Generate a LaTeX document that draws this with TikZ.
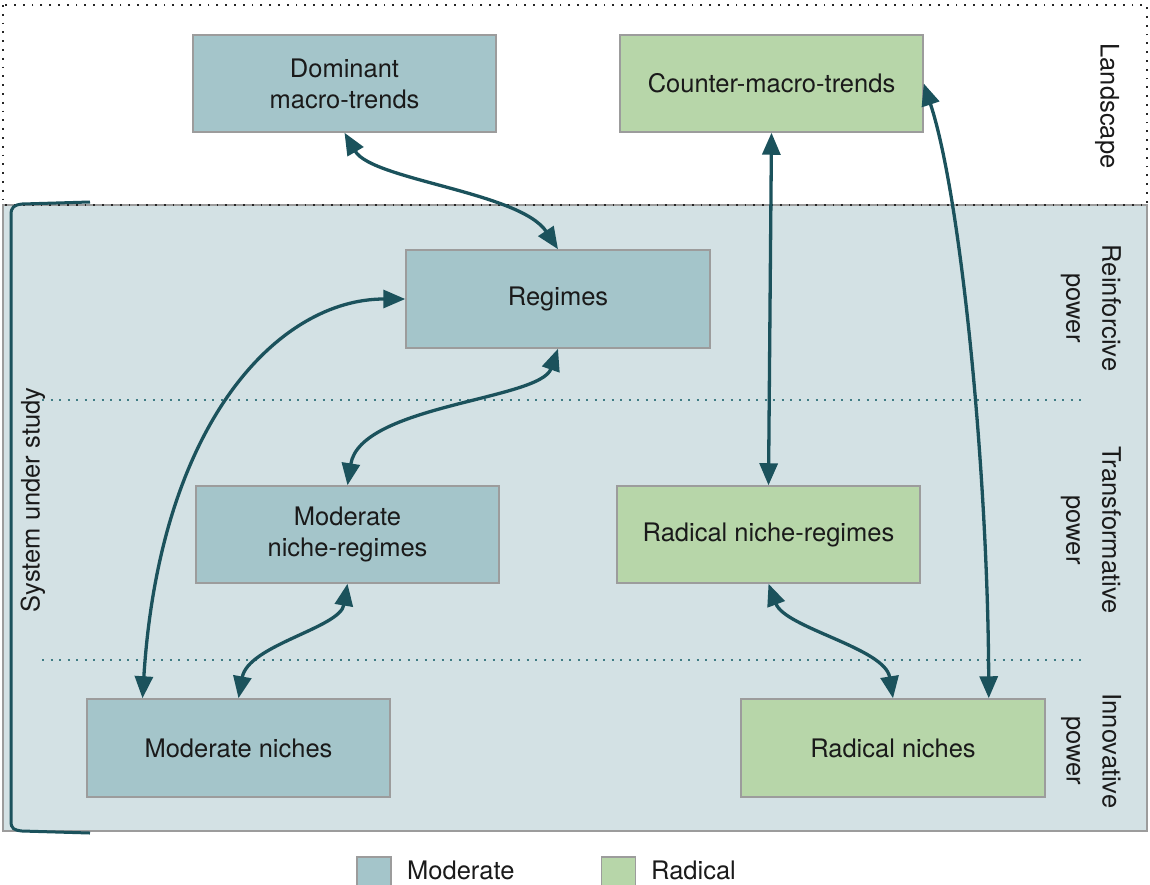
\documentclass[tikz,border=0pt]{standalone}
\usepackage{fontspec}
\setmainfont{TeX Gyre Heros}
\usetikzlibrary{arrows.meta}
\definecolor{modfill}{HTML}{A4C5CA}
\definecolor{radfill}{HTML}{B7D6A9}
\definecolor{sysfill}{HTML}{D3E1E4}
\definecolor{linkcol}{HTML}{1B525C}
\definecolor{edgegray}{HTML}{9C9C9C}
\definecolor{sepdots}{HTML}{3F7C84}
\definecolor{inktext}{HTML}{1A1A1A}

\begin{document}
\begin{tikzpicture}[x=1pt,y=-1pt,
  txt/.style={font=\fontsize{25.5}{31}\selectfont, text=inktext, inner sep=0pt, align=center},
  box/.style={txt, draw=edgegray, line width=1.5pt, minimum width=303pt, minimum height=97pt},
  modbox/.style={box, fill=modfill},
  radbox/.style={box, fill=radfill},
  link/.style={draw=linkcol, line width=3.3pt,
    {Triangle[length=22pt,width=18pt]}-{Triangle[length=22pt,width=18pt]}},
  sidelabel/.style={txt, font=\fontsize{25.5}{36}\selectfont, rotate=-90},
  sepline/.style={sepdots, line width=2pt, dash pattern=on 2pt off 6.5pt},
  swatch/.style={draw=edgegray, line width=1.5pt, minimum width=34pt, minimum height=34pt, inner sep=0pt},
]
\useasboundingbox (0,0) rectangle (1150,884);

% system under study panel
\fill[sysfill] (3,205) rectangle (1147,831);
\draw[edgegray, line width=1.5pt] (3,205) rectangle (1147,831);

% landscape frame
\draw[black!85, line width=1.8pt, dash pattern=on 1.8pt off 7pt] (3,5) rectangle (1147,205);

% power level separators
\draw[sepline] (42,400) -- (1085,400);
\draw[sepline] (42,660) -- (1085,660);

% bracket around the system
\draw[linkcol, line width=3pt] (90,202) -- (22,204)
  .. controls (14,205) and (11,207) .. (11,215) -- (11,821)
  .. controls (11,829) and (14,830) .. (22,831) -- (90,833);

% boxes
\node[modbox] (dom) at (344.5,83.5) {Dominant\\macro-trends};
\node[radbox] (cmt) at (771.5,83.5) {Counter-macro-trends};
\node[modbox, minimum height=98pt, minimum width=304pt] (reg) at (558,299) {Regimes};
\node[modbox] (mnr) at (347.5,534.5) {Moderate\\niche-regimes};
\node[radbox] (rnr) at (768.5,534.5) {Radical niche-regimes};
\node[modbox, minimum height=98pt] (mn) at (238.5,748) {Moderate niches};
\node[radbox, minimum height=98pt, minimum width=304pt] (rn) at (893,748) {Radical niches};

% side labels
\node[sidelabel] (land) at (1107,106) {Landscape};
\node[sidelabel] (reinf) at (1091,308) {Reinforcive\\power};
\node[sidelabel] (transf) at (1091,530) {Transformative\\power};
\node[sidelabel] (innov) at (1091,751) {Innovative\\power};
\node[txt, rotate=90] (sys) at (33,500) {System under study};

% links
\draw[link] (dom.south) .. controls (372,180) and (520,192) .. (reg.north);
\draw[link] ([xshift=-96pt]mn.north) .. controls (160,420) and (280,299) .. (reg.west);
\draw[link] (reg.south) .. controls (540,400) and (360,405) .. (mnr.north);
\draw[link] (mnr.south) .. controls (340,628) and (248,645) .. (mn.north);
\draw[link] (cmt.south) -- (rnr.north);
\draw[link] (cmt.east) .. controls (962,200) and (988,480) .. ([xshift=-57pt]rn.north east);
\draw[link] (rnr.south) .. controls (785,628) and (885,648) .. (rn.north);

% legend
\begin{scope}
\clip (0,0) rectangle (1150,884);
\node[swatch, fill=modfill] (swm) at (374,874) {};
\node[swatch, fill=radfill] (swr) at (618.5,874) {};
\end{scope}
\node[txt, anchor=west] (legm) at (407,870) {Moderate};
\node[txt, anchor=west] (legr) at (651,870) {Radical};
\end{tikzpicture}
\end{document}
